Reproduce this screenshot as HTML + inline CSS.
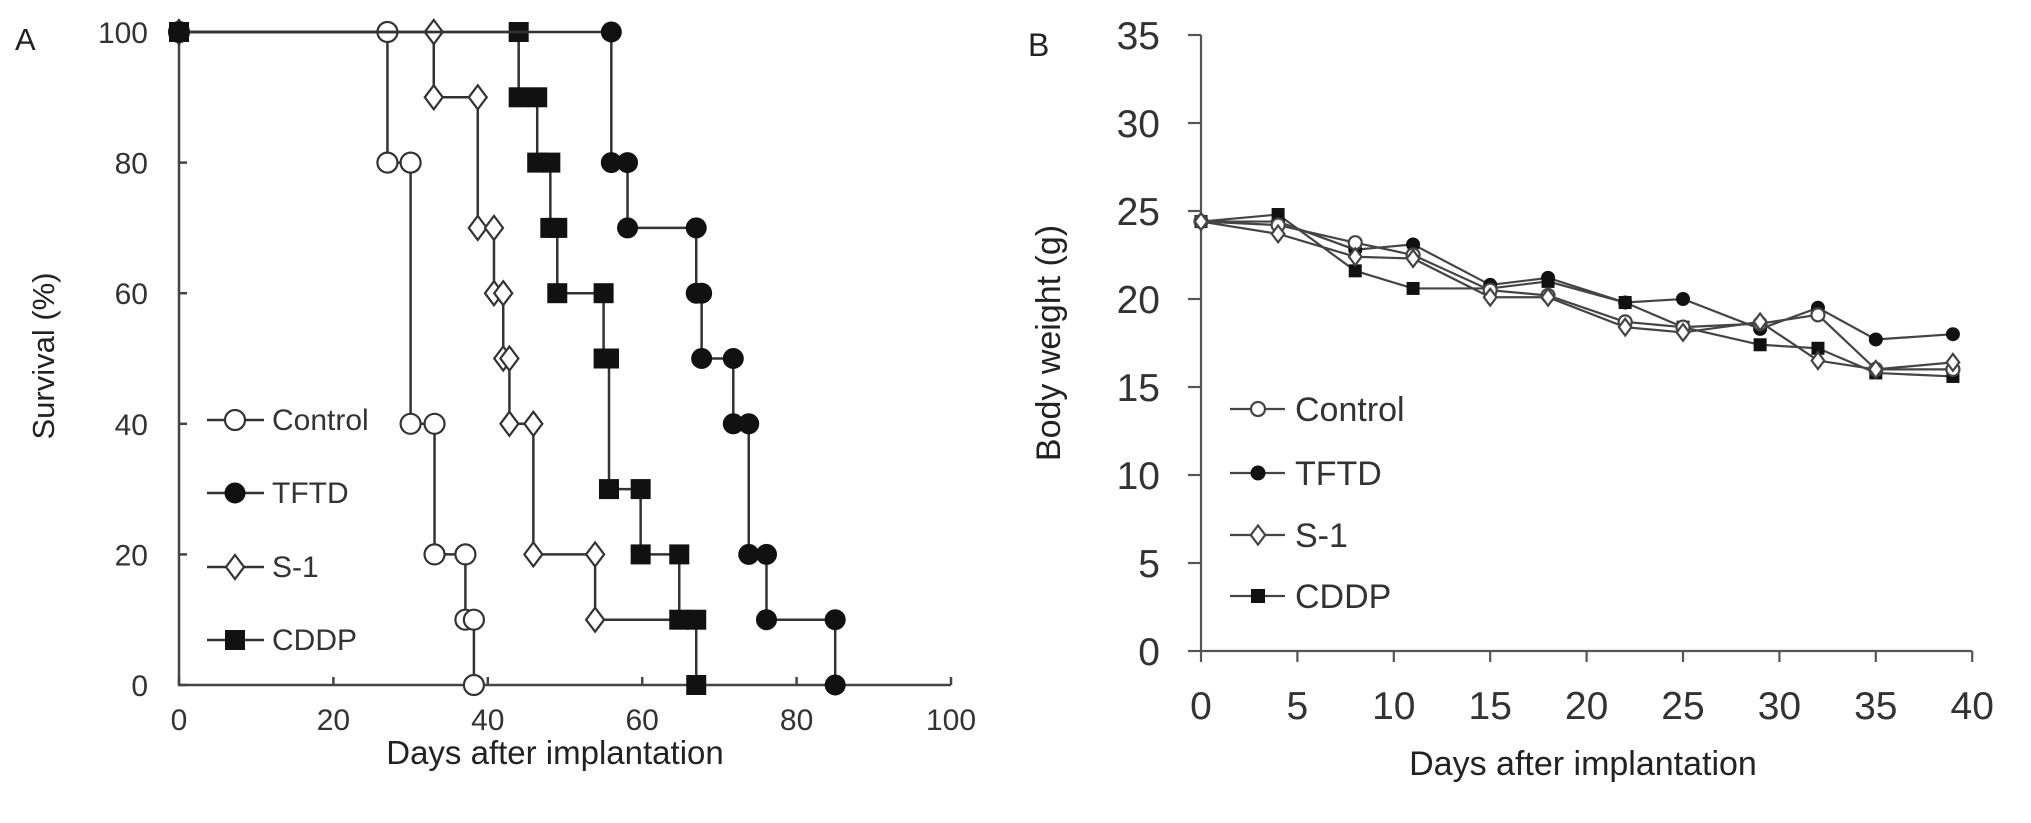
<!DOCTYPE html>
<html><head><meta charset="utf-8"><style>
html,body{margin:0;padding:0;background:#fff;}
svg{display:block;font-family:"Liberation Sans",Arial,sans-serif;}
</style></head><body>
<svg id="fig" width="2031" height="823" viewBox="0 0 2031 823" xmlns="http://www.w3.org/2000/svg">
<g id="pa"></g>
<g id="pb"></g>
</svg>
<script>
// ---- Panel A data (Kaplan-Meier) ----
const aXTicks = [0,20,40,60,80,100];
const aYTicks = [0,20,40,60,80,100];
const ctrlDrops = [27,30,33.1,37.1,38.2];
const ctrlVals  = [80,40,20,10,0];
const tftdDrops = [56,58.1,67,67.7,71.8,73.8,76.1,85];
const tftdVals  = [80,70,60,50,40,20,10,0];
const s1Drops   = [33,38.7,40.8,42,42.8,45.9,53.9];
const s1Vals    = [90,70,60,50,40,20,10];
const s1End = 65;
const cddpDrops = [44,46.4,48.1,49,55,55.7,59.8,64.8,67];
const cddpVals  = [90,80,70,60,50,30,20,10,0];
// ---- Panel B data ----
const bDays = [0,4,8,11,15,18,22,25,29,32,35,39];
const bCtrl = [24.4,24.2,23.2,22.5,20.5,20.2,18.7,18.4,18.6,19.1,16.0,16.0];
const bTftd = [24.4,24.4,22.8,23.1,20.8,21.2,19.8,20.0,18.3,19.5,17.7,18.0];
const bS1   = [24.4,23.7,22.4,22.3,20.1,20.1,18.4,18.1,18.7,16.5,16.0,16.4];
const bCddp = [24.4,24.8,21.6,20.6,20.6,21.0,19.8,18.4,17.4,17.2,15.8,15.6];
const bXTicks = [0,5,10,15,20,25,30,35,40];
const bYTicks = [0,5,10,15,20,25,30,35];

const NS="http://www.w3.org/2000/svg";
function mk(parent,tag,attrs,txt){const e=document.createElementNS(NS,tag);for(const k in attrs)e.setAttribute(k,attrs[k]);if(txt!==undefined)e.textContent=txt;parent.appendChild(e);return e;}

function marker(g,type,x,y,s,col){
  let e;
  if(type==='circle'){e=mk(g,'circle',{cx:x,cy:y,r:s,fill:'#fff',stroke:col,'stroke-width':2.2});}
  else if(type==='dot'){e=mk(g,'circle',{cx:x,cy:y,r:s,fill:'#111',stroke:'#111','stroke-width':1});}
  else if(type==='diamond'){e=mk(g,'polygon',{points:`${x},${y-s*1.2} ${x+s*0.9},${y} ${x},${y+s*1.2} ${x-s*0.9},${y}`,fill:'#fff',stroke:col,'stroke-width':2.2});}
  else {e=mk(g,'rect',{x:x-s,y:y-s,width:2*s,height:2*s,fill:'#111'});}
  
  
  return e;
}

// ---------- Panel A ----------
const pa=document.getElementById('pa');
const ax=d=>179+d*7.72, ay=v=>685-v*6.53;
let t=mk(pa,'text',{x:15,y:50,'font-size':31,fill:'#222'},'A');

let axl=mk(pa,'path',{d:`M${ax(0)},${ay(100)-2}V${ay(0)}H${ax(100)}`,fill:'none',stroke:'#444','stroke-width':2.5});

aYTicks.forEach(v=>{
  let l=mk(pa,'line',{x1:ax(0),x2:ax(0)+8,y1:ay(v),y2:ay(v),stroke:'#444','stroke-width':2.5});
  
  let tx=mk(pa,'text',{x:148,y:ay(v)+11,'font-size':30,'text-anchor':'end',fill:'#333'},String(v));
  
});
aXTicks.forEach(v=>{
  let l=mk(pa,'line',{x1:ax(v),x2:ax(v),y1:ay(0),y2:ay(0)-8,stroke:'#444','stroke-width':2.5});
  
  let tx=mk(pa,'text',{x:ax(v),y:730,'font-size':30,'text-anchor':'middle',fill:'#333'},String(v));
  
});
t=mk(pa,'text',{x:555,y:764,'font-size':33,'text-anchor':'middle',fill:'#222'},'Days after implantation');

t=mk(pa,'text',{x:0,y:0,'font-size':31,'text-anchor':'middle',fill:'#222',transform:'translate(54,356) rotate(-90)'},'Survival (%)');


function km(name,drops,vals,type,end){
  const g=mk(pa,'g',{});
  
  let d=`M${ax(0)},${ay(100)}`;let prev=100;
  drops.forEach((dx,i)=>{d+=`H${ax(dx)}V${ay(vals[i])}`;prev=vals[i];});
  if(end!==undefined)d+=`H${ax(end)}`;
  mk(g,'path',{d:d,fill:'none',stroke:'#333','stroke-width':2.5});
  const s=10;
  marker(g,type,ax(0),ay(100),s,'#333');
  prev=100;
  drops.forEach((dx,i)=>{marker(g,type,ax(dx),ay(prev),s,'#333');marker(g,type,ax(dx),ay(vals[i]),s,'#333');prev=vals[i];});
}
km('series-control',ctrlDrops,ctrlVals,'circle');
km('series-s1',s1Drops,s1Vals,'diamond',s1End);
km('series-cddp',cddpDrops,cddpVals,'square');
km('series-tftd',tftdDrops,tftdVals,'dot');

const aLeg=[['Control','circle',420],['TFTD','dot',493],['S-1','diamond',567],['CDDP','square',640]];
aLeg.forEach(([lab,type,y])=>{
  const g=mk(pa,'g',{});
  
  mk(g,'line',{x1:207,x2:264,y1:y,y2:y,stroke:'#333','stroke-width':2.5});
  marker(g,type,235,y,10,'#333');
  mk(g,'text',{x:272,y:y+10,'font-size':30,fill:'#333'},lab);
});

// ---------- Panel B ----------
const pb=document.getElementById('pb');
const bx=d=>1201+d*19.28, by=v=>651-v*17.6;
t=mk(pb,'text',{x:1028,y:56,'font-size':32,fill:'#222'},'B');

axl=mk(pb,'path',{d:`M${bx(0)},${by(35)}V${by(0)}H${bx(40)}`,fill:'none',stroke:'#555','stroke-width':2.2});

bYTicks.forEach(v=>{
  let l=mk(pb,'line',{x1:bx(0)-13,x2:bx(0),y1:by(v),y2:by(v),stroke:'#555','stroke-width':2.2});
  
  let tx=mk(pb,'text',{x:1160,y:by(v)+14,'font-size':39,'text-anchor':'end',fill:'#333'},String(v));
  
});
bXTicks.forEach(v=>{
  let l=mk(pb,'line',{x1:bx(v),x2:bx(v),y1:by(0),y2:by(0)+11,stroke:'#555','stroke-width':2.2});
  
  let tx=mk(pb,'text',{x:bx(v),y:719,'font-size':39,'text-anchor':'middle',fill:'#333'},String(v));
  
});
t=mk(pb,'text',{x:1583,y:775,'font-size':34,'text-anchor':'middle',fill:'#222'},'Days after implantation');

t=mk(pb,'text',{x:0,y:0,'font-size':34,'text-anchor':'middle',fill:'#222',transform:'translate(1060,343) rotate(-90)'},'Body weight (g)');


function lineSeries(name,vals,type){
  const g=mk(pb,'g',{});
  
  mk(g,'polyline',{points:bDays.map((d,i)=>`${bx(d)},${by(vals[i])}`).join(' '),fill:'none',stroke:'#444','stroke-width':2.2});
  bDays.forEach((d,i)=>marker(g,type,bx(d),by(vals[i]),type==='diamond'?7:6.5,'#444'));
}
lineSeries('series-cddp',bCddp,'square');
lineSeries('series-tftd',bTftd,'dot');
lineSeries('series-control',bCtrl,'circle');
lineSeries('series-s1',bS1,'diamond');

const bLeg=[['Control','circle',409],['TFTD','dot',473],['S-1','diamond',535],['CDDP','square',596]];
bLeg.forEach(([lab,type,y])=>{
  const g=mk(pb,'g',{});
  
  mk(g,'line',{x1:1230,x2:1285,y1:y,y2:y,stroke:'#444','stroke-width':2.2});
  marker(g,type,1258,y,type==='diamond'?8:7,'#444');
  mk(g,'text',{x:1295,y:y+12,'font-size':34,fill:'#333'},lab);
});
</script>
</body></html>
